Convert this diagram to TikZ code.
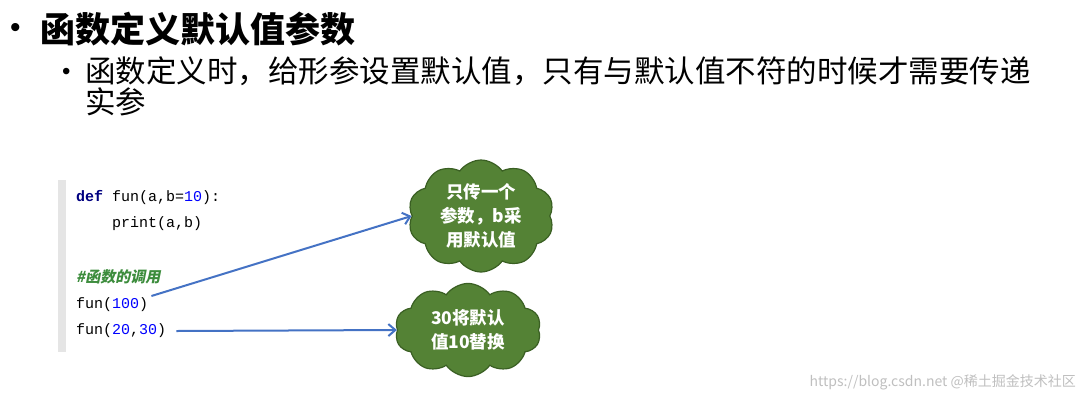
\documentclass[tikz,border=0pt]{standalone}
\usepackage{fontspec}
\setmainfont{Liberation Sans}
\setmonofont{Liberation Mono}
\newfontfamily\cjk{Noto Sans CJK SC}
\newfontfamily\cjkslant{Noto Sans CJK SC}[FakeSlant=0.2]
\usetikzlibrary{shapes.symbols,arrows.meta}
\definecolor{arrowblue}{HTML}{4472C4}
\definecolor{cloudfill}{HTML}{548235}
\definecolor{cloudline}{HTML}{3A5F23}
\definecolor{kw}{HTML}{000080}
\definecolor{num}{HTML}{0000FF}
\definecolor{cmt}{HTML}{3C8C3C}
\begin{document}
\begin{tikzpicture}[x=1pt,y=-1pt,
  code/.style={anchor=west,inner sep=0,font=\ttfamily\fontsize{15}{15}\selectfont},
  cloudbox/.style={cloud,cloud puffs=10,cloud puff arc=110,aspect=1.3,draw=cloudline,line width=1.2pt,fill=cloudfill,text=white,align=center,font=\cjk\bfseries\fontsize{17.5}{24}\selectfont,inner sep=0pt},
  conn/.style={arrowblue,line width=2pt,-{Straight Barb[length=7pt,width=12pt]}}]
\useasboundingbox (0,0) rectangle (1081,400);
\node[anchor=west,inner sep=0,font=\fontsize{30}{34}\selectfont] (b1) at (10,30) {•};
\node[anchor=west,inner sep=0,font=\cjk\bfseries\fontsize{35}{40}\selectfont] (t1) at (40,29) {函数定义默认值参数};
\node[anchor=west,inner sep=0,font=\fontsize{24}{28}\selectfont] (b2) at (62,74) {•};
\node[anchor=north west,inner sep=0,align=left,font=\cjk\fontsize{30.5}{31}\selectfont] (t2) at (85,56) {函数定义时，给形参设置默认值，只有与默认值不符的时候才需要传递\\实参};
\fill[gray!20] (58,180) rectangle (66,352);
\node[code] (c1) at (76,198) {\textcolor{kw}{\textbf{def}} fun(a,b=\textcolor{num}{10}):};
\node[code] (c2) at (112,224) {print(a,b)};
\node[code,text=cmt,font=\cjkslant\bfseries\fontsize{15}{15}\selectfont] (c3) at (76,277) {\#函数的调用};
\node[code] (c4) at (76,305) {fun(\textcolor{num}{100})};
\node[code] (c5) at (76,331) {fun(\textcolor{num}{20},\textcolor{num}{30})};
\node[cloudbox,minimum width=146pt,minimum height=112pt] (k1) at (481,216) {只传一个\\参数，b采\\用默认值};
\node[cloudbox,minimum width=146pt,minimum height=92pt] (k2) at (468,330) {30将默认\\值10替换};
\draw[conn] (c4.east)++(3,-9) -- (k1.west);
\draw[conn] (c5.east)++(10,0) -- (k2.west);
\node[anchor=east,inner sep=0,text=gray!50,font=\cjk\fontsize{14}{14}\selectfont] (wm) at (1076,382) {https://blog.csdn.net @稀土掘金技术社区};
\end{tikzpicture}
\end{document}
